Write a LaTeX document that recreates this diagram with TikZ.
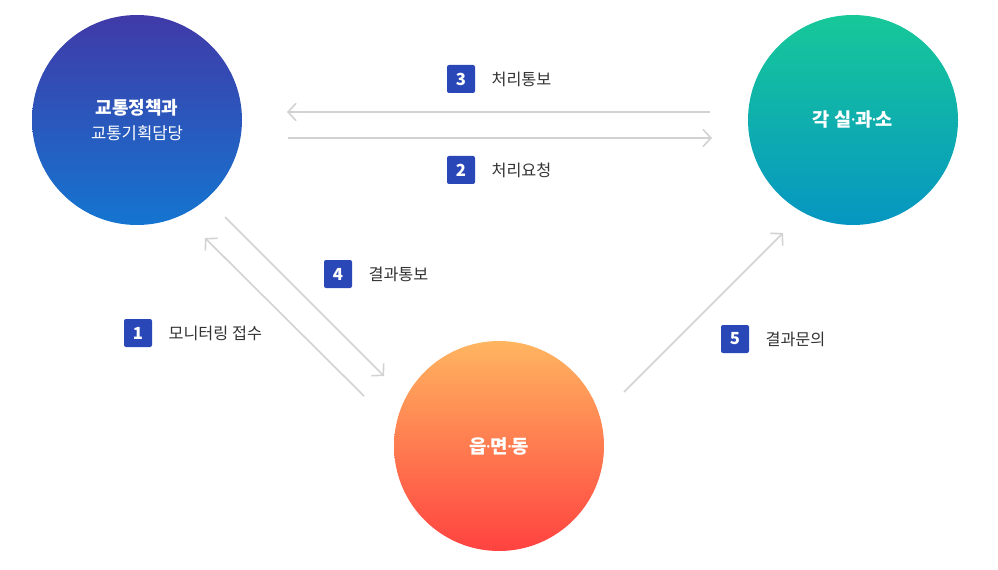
\documentclass[tikz,border=0pt]{standalone}
\usepackage{fontspec}
\newfontfamily\kr{Noto Sans CJK KR}
\newfontfamily\dotfont{Noto Sans}
\newcommand{\mdot}{{\dotfont\bfseries\kern-0.5pt·\kern-0.5pt}}
\usetikzlibrary{arrows.meta,positioning}
\definecolor{badgeblue}{HTML}{2A47B8}
\definecolor{linegray}{HTML}{D2D2D2}
\definecolor{labelgray}{HTML}{333333}
\tikzset{
  org/.style={circle, minimum size=157.5pt, inner sep=0pt, text=white, font=\kr, align=center},
  badge/.style={fill=badgeblue, rounded corners=1.5pt, minimum size=21pt, inner sep=0pt, text=white, font=\kr\bfseries\fontsize{12.5}{12.5}\selectfont},
  tag/.style={right=12pt of #1, inner sep=0pt, text=labelgray, font=\kr\fontsize{12.2}{14}\selectfont},
  flow/.style={draw=linegray, line width=1.2pt, -{Straight Barb[length=6pt, width=13pt, line width=1.2pt]}}
}
\begin{document}
\begin{tikzpicture}[x=0.75pt, y=-0.75pt]
    \useasboundingbox (0,0) rectangle (998,570);

    \node[org, top color={rgb,255:red,64;green,58;blue,168}, bottom color={rgb,255:red,20;green,117;blue,208}] (policy) at (137,120)
        {{\bfseries\fontsize{13.5}{16}\selectfont 교통정책과}\\[7pt]{\fontsize{12.5}{14}\selectfont 교통기획담당}};
    \node[org, top color={rgb,255:red,23;green,200;blue,153}, bottom color={rgb,255:red,6;green,150;blue,193}] (office) at (853,120)
        {\bfseries\fontsize{14}{16}\selectfont 각 실\mdot 과\mdot 소};
    \node[org, top color={rgb,255:red,255;green,181;blue,96}, bottom color={rgb,255:red,255;green,66;blue,64}] (town) at (499,446)
        {\bfseries\fontsize{14.2}{16}\selectfont 읍\mdot 면\mdot 동};

    \coordinate (t1) at (710,112);
    \coordinate (t2) at (287,112);
    \coordinate (b1) at (288,138);
    \coordinate (b2) at (712,138);
    \coordinate (d1) at (225,217);
    \coordinate (d2) at (384,376);
    \coordinate (e1) at (364,396);
    \coordinate (e2) at (205,238);
    \coordinate (f1) at (624,392);
    \coordinate (f2) at (783,233);

    \draw[flow] (t1) -- (t2);
    \draw[flow] (b1) -- (b2);
    \draw[flow] (d1) -- (d2);
    \draw[flow] (e1) -- (e2);
    \draw[flow] (f1) -- (f2);

    \node[badge] (n3) at (461,79) {3};
    \node[tag=n3] (l3) {처리통보};
    \node[badge] (n2) at (461,170) {2};
    \node[tag=n2] (l2) {처리요청};
    \node[badge] (n4) at (338,274) {4};
    \node[tag=n4] (l4) {결과통보};
    \node[badge] (n1) at (138,333) {1};
    \node[tag=n1] (l1) {모니터링 접수};
    \node[badge] (n5) at (735,339) {5};
    \node[tag=n5] (l5) {결과문의};
\end{tikzpicture}
\end{document}
